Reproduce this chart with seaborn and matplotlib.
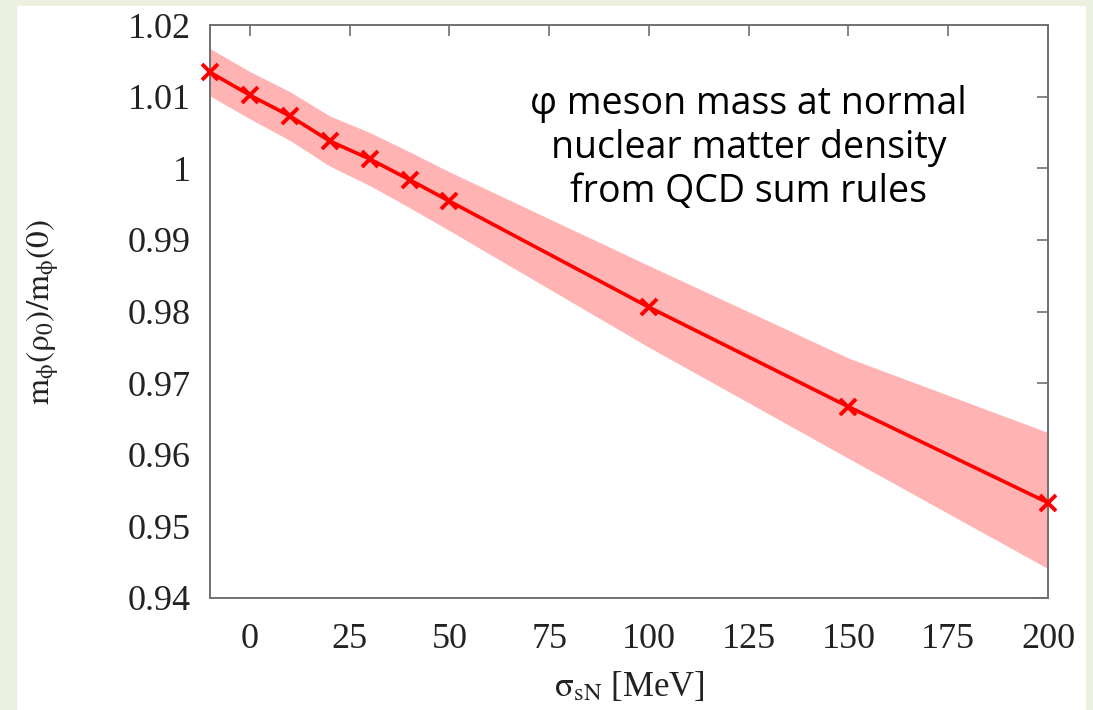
import numpy as np
import pandas as pd
import matplotlib
matplotlib.use("Agg")
import matplotlib.pyplot as plt
import matplotlib.ticker as mticker
from matplotlib.patches import Rectangle
import seaborn as sns

# values
sigma_sN = [-10, 0, 10, 20, 30, 40, 50, 100, 150, 200]
mass_ratio = [1.0134, 1.0102, 1.0073, 1.0038, 1.0013, 0.9984, 0.9954, 0.9806, 0.9667, 0.9533]
band_low = [1.0101, 1.0069, 1.0039, 1.0003, 0.9976, 0.9945, 0.9913, 0.9750, 0.9595, 0.9441]
band_high = [1.0167, 1.0135, 1.0107, 1.0073, 1.0050, 1.0023, 0.9995, 0.9864, 0.9735, 0.9631]

x_ticks = [0, 25, 50, 75, 100, 125, 150, 175, 200]
y_ticks = [0.94, 0.95, 0.96, 0.97, 0.98, 0.99, 1.0, 1.01, 1.02]
note = "φ meson mass at normal\nnuclear matter density\nfrom QCD sum rules"

df = pd.DataFrame({"sigma": sigma_sN, "ratio": mass_ratio, "lo": band_low, "hi": band_high})

sns.set_theme(style="white")
plt.rcParams["font.family"] = ["Liberation Serif", "DejaVu Serif"]
plt.rcParams["mathtext.fontset"] = "stix"

fig = plt.figure(figsize=(10.93, 7.10), dpi=100)
fig.patch.set_facecolor("#ebf1de")
fig.patches.append(Rectangle((17 / 1093, 0), (1086 - 17) / 1093, 1 - 6 / 710,
                             transform=fig.transFigure, facecolor="white",
                             edgecolor="none", zorder=-5))
ax = fig.add_axes([210 / 1093, 112 / 710, (1048 - 210) / 1093, (598 - 25) / 710])
ax.set_facecolor("white")

ax.fill_between(df["sigma"], df["lo"], df["hi"], color="#ffb3b3", linewidth=0, zorder=1)
sns.lineplot(data=df, x="sigma", y="ratio", ax=ax, color="#ff0000", linewidth=2.6,
             zorder=3, clip_on=False)
ax.plot(df["sigma"], df["ratio"], linestyle="none", marker="x", color="#ff0000",
        markersize=11.5, markeredgewidth=2.8, zorder=4, clip_on=False)

ax.set_xlim(-10, 200)
ax.set_ylim(0.94, 1.02)
ax.set_xticks(x_ticks)
ax.set_yticks(y_ticks)
ax.yaxis.set_major_formatter(mticker.FormatStrFormatter("%g"))
ax.tick_params(direction="in", length=8, width=1.2, color="#707070",
               top=True, right=True, labelsize=26, labelcolor="#222222")
ax.tick_params(axis="y", pad=14)
ax.tick_params(axis="x", pad=18)
for s in ax.spines.values():
    s.set_color("#707070")
    s.set_linewidth(1.4)

ax.set_xlabel(r"$\mathrm{\sigma}_{\mathrm{sN}}$ [MeV]", fontsize=25, color="#222222",
              labelpad=10)
ax.set_ylabel(r"$\mathrm{m}_{\mathrm{\phi}}(\mathrm{\rho}_0)/\mathrm{m}_{\mathrm{\phi}}(0)$",
              fontsize=24, color="#222222", labelpad=48)

ax.text(0.643, 0.785, note, transform=ax.transAxes, ha="center", va="center",
        fontsize=27, family=["Open Sans", "DejaVu Sans"], color="black",
        linespacing=1.2)

fig.savefig("out.png", dpi=100, facecolor=fig.get_facecolor())
